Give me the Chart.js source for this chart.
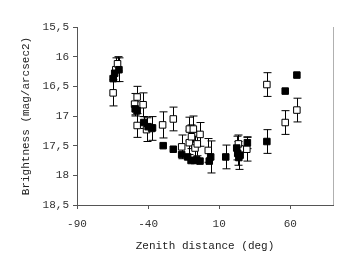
<!DOCTYPE html>
<html>
<head>
<meta charset="utf-8">
<script src="https://cdn.jsdelivr.net/npm/chart.js@4.4.1/dist/chart.umd.min.js"></script>
<style>
  html, body { margin: 0; padding: 0; background: #fff; }
  #wrap { width: 360px; height: 273px; }
</style>
</head>
<body>
<div id="wrap"><canvas id="chart" width="360" height="273"></canvas></div>
<script>
// filled squares
const filledX   = [-64.6, -63.5, -60.5, -49.1, -47.7, -43.0, -40.0, -36.9, -29.4, -22.3, -16.4, -12.2, -9.8, -7.5, -5.8, -3.5, 3.0, 4.0, 14.6, 22.3, 23.0, 23.8, 24.7, 29.8, 43.5, 56.4, 64.6];
const filledY   = [16.37, 16.28, 16.22, 16.88, 16.91, 17.11, 17.18, 17.20, 17.50, 17.56, 17.65, 17.69, 17.75, 17.75, 17.74, 17.76, 17.76, 17.69, 17.69, 17.54, 17.63, 17.70, 17.66, 17.45, 17.43, 16.58, 16.31];
const filledErr = [0, 0, 0.2, 0.12, 0, 0.1, 0, 0, 0, 0, 0, 0, 0, 0, 0, 0, 0, 0.27, 0.2, 0.2, 0.2, 0.2, 0, 0.1, 0.2, 0, 0];

// open squares
const openX   = [-64.6, -62.7, -61.5, -49.5, -47.7, -47.7, -43.5, -41.1, -37.5, -29.8, -22.3, -16.4, -11.0, -8.2, -11.0, -9.5, -7.0, -5.4, -3.5, 2.3, 23.5, 29.4, 43.5, 56.4, 64.6];
const openY   = [16.61, 16.22, 16.12, 16.80, 16.68, 17.16, 16.81, 17.23, 17.21, 17.15, 17.05, 17.52, 17.22, 17.22, 17.45, 17.35, 17.54, 17.47, 17.31, 17.58, 17.47, 17.56, 16.47, 17.11, 16.90];
const openErr = [0.22, 0.2, 0.12, 0.18, 0.18, 0.2, 0.2, 0.2, 0.2, 0.22, 0.2, 0.2, 0.2, 0.22, 0.2, 0.2, 0.2, 0.2, 0.2, 0.2, 0.15, 0.2, 0.2, 0.2, 0.2];

const xTicks = [-90, -40, 10, 60];
const yTicks = [15.5, 16, 16.5, 17, 17.5, 18, 18.5];

function toPoints(xs, ys, errs) {
    return xs.map((x, i) => ({ x: x, y: ys[i], err: errs[i] }));
}

// error bars + right frame line
const errorBars = {
    id: 'errorBars',
    beforeDatasetsDraw(chart) {
        const ctx = chart.ctx;
        const xs = chart.scales.x, ys = chart.scales.y;
        ctx.save();
        ctx.strokeStyle = '#000';
        ctx.lineWidth = 1;
        chart.data.datasets.forEach(ds => {
            ds.data.forEach(p => {
                if (!p.err) return;
                const px = Math.round(xs.getPixelForValue(p.x)) + 0.5;
                const top = ys.getPixelForValue(p.y - p.err);
                const bot = ys.getPixelForValue(p.y + p.err);
                ctx.beginPath();
                ctx.moveTo(px, top); ctx.lineTo(px, bot);
                ctx.moveTo(px - 4, top); ctx.lineTo(px + 4, top);
                ctx.moveTo(px - 4, bot); ctx.lineTo(px + 4, bot);
                ctx.stroke();
            });
        });
        ctx.restore();
    },
    afterDraw(chart) {
        const a = chart.chartArea, ctx = chart.ctx;
        ctx.save();
        ctx.strokeStyle = '#b0b0b0';
        ctx.lineWidth = 1;
        ctx.beginPath();
        ctx.moveTo(Math.round(a.right) + 0.5, a.top);
        ctx.lineTo(Math.round(a.right) + 0.5, a.bottom);
        ctx.stroke();
        ctx.restore();
    }
};

const font = { family: '"Liberation Mono", "DejaVu Sans Mono", monospace', size: 11 };
const titleFont = { family: '"Liberation Mono", "DejaVu Sans Mono", monospace', size: 11 };

new Chart(document.getElementById('chart'), {
    type: 'scatter',
    data: {
        datasets: [{
            label: 'filled',
            data: toPoints(filledX, filledY, filledErr),
            pointStyle: 'rect',
            pointRadius: 4.6,
            backgroundColor: '#000',
            borderColor: '#000',
            borderWidth: 1
        }, {
            label: 'open',
            data: toPoints(openX, openY, openErr),
            pointStyle: 'rect',
            pointRadius: 4.6,
            backgroundColor: '#fff',
            borderColor: '#000',
            borderWidth: 1
        }]
    },
    options: {
        responsive: false,
        animation: false,
        layout: { padding: { top: 27, right: 27, left: 0, bottom: 0 } },
        plugins: { legend: { display: false }, tooltip: { enabled: false } },
        scales: {
            x: {
                type: 'linear',
                min: -90, max: 90,
                afterFit: s => { s.height = 68; },
                afterBuildTicks: s => { s.ticks = xTicks.map(v => ({ value: v })); },
                ticks: { font: font, color: '#333', padding: 8, maxRotation: 0 },
                grid: { drawOnChartArea: false, drawTicks: true, tickLength: 4, color: '#555' },
                border: { display: true, color: '#555', width: 1 },
                title: { display: true, text: 'Zenith distance (deg)', font: titleFont, color: '#222', padding: { top: 8, bottom: 20 } }
            },
            y: {
                type: 'linear',
                reverse: true,
                min: 15.5, max: 18.5,
                afterFit: s => { s.width = 77; },
                afterBuildTicks: s => { s.ticks = yTicks.map(v => ({ value: v })); },
                ticks: {
                    font: font, color: '#333', padding: 4,
                    callback: v => String(v).replace('.', ',')
                },
                grid: { drawOnChartArea: false, drawTicks: true, tickLength: 4, color: '#555' },
                border: { display: true, color: '#555', width: 1 },
                title: { display: true, text: 'Brightness (mag/arcsec2)', font: titleFont, color: '#222', padding: { top: 19, bottom: 4 } }
            }
        }
    },
    plugins: [errorBars]
});
</script>
</body>
</html>
